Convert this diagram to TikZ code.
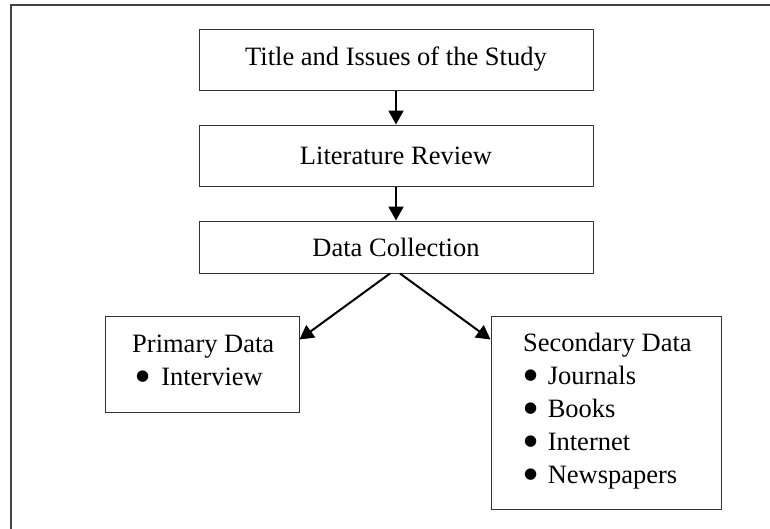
\documentclass[tikz,border=0pt]{standalone}
\usepackage{fontspec}
\setmainfont{Liberation Serif}
\newfontfamily\bulfont{DejaVu Sans}
\usetikzlibrary{arrows.meta,calc}
\definecolor{boxline}{HTML}{333333}
\definecolor{frameline}{HTML}{444444}
\newcommand{\bigbul}{\raisebox{5pt}{\bulfont\fontsize{15}{15}\selectfont ●}}
\tikzset{
  flowbox/.style={draw=boxline, line width=1pt, inner sep=0pt, minimum width=394pt, font=\fontsize{26.5}{33}\selectfont},
  listbox/.style={draw=boxline, line width=1pt, inner sep=0pt},
  listtext/.style={inner sep=0pt, align=left, anchor=west, font=\fontsize{26.5}{33}\selectfont},
  flowarrow/.style={line width=2pt, -{Triangle[length=14pt,width=15pt]}}
}
\begin{document}
\begin{tikzpicture}[x=1pt,y=-1pt]
\useasboundingbox (0,0) rectangle (770,528);
% outer frame (right and bottom edges fall outside the picture)
\draw[frameline, line width=1.3pt] (11,5) rectangle (775,535);
% main boxes
\node[flowbox, minimum height=61pt] (title) at (396,59.5) {Title and Issues of the Study};
\node[flowbox, minimum height=61pt] (lit) at (396,155.5) {Literature Review};
\node[flowbox, minimum height=52pt] (data) at (396,247) {Data Collection};
% lower boxes
\node[listbox, minimum width=194pt, minimum height=96pt] (prim) at (202,364) {};
\node[listbox, minimum width=230pt, minimum height=193pt] (sec) at (606,412.5) {};
\node[listtext] (primtext) at (132,360) {Primary Data\\\hspace*{4pt}\bigbul\hspace{12pt}Interview};
\node[listtext] (sectext) at (523,411.5) {Secondary Data\\
\hspace*{1pt}\bigbul\hspace{10.5pt}Journals\\
\hspace*{1pt}\bigbul\hspace{10.5pt}Books\\
\hspace*{1pt}\bigbul\hspace{10.5pt}Internet\\
\hspace*{1pt}\bigbul\hspace{10.5pt}Newspapers};
% connectors
\draw[flowarrow] (title.south) -- (lit.north);
\draw[flowarrow] (lit.south) -- (data.north);
\draw[flowarrow] ($(data.south)+(-6,0)$) -- ($(prim.north east)+(0,24)$);
\draw[flowarrow] ($(data.south)+(4,0)$) -- ($(sec.north west)+(0,24)$);
\end{tikzpicture}
\end{document}
